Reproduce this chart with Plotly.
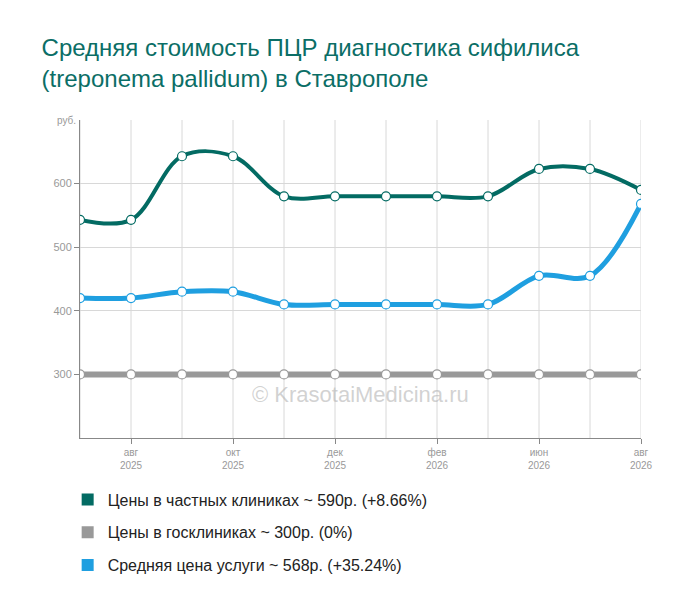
import plotly.graph_objects as go

x_idx = list(range(12))
tick_vals = [1, 3, 5, 7, 9, 11]
tick_text = ["авг<br>2025", "окт<br>2025", "дек<br>2025", "фев<br>2026", "июн<br>2026", "авг<br>2026"]
private = [543, 543, 643, 643, 580, 580, 580, 580, 580, 623, 623, 590]
gov = [300] * 12
avg = [420, 420, 430, 430, 410, 410, 410, 410, 410, 455, 455, 568]

names = ["Цены в частных клиниках ~ 590р. (+8.66%)",
         "Цены в госклиниках ~ 300р. (0%)",
         "Средняя цена услуги ~ 568р. (+35.24%)"]
colors = ["#036b63", "#999999", "#1f9fe0"]

fig = go.Figure()
for s, c, w in zip([gov, avg, private], [colors[1], colors[2], colors[0]], [6, 5, 4]):
    fig.add_trace(go.Scatter(x=x_idx, y=s, mode="lines+markers",
                             line=dict(color=c, width=w, shape="spline", smoothing=1.0),
                             marker=dict(size=9, color="white", line=dict(color=c, width=1.2)),
                             showlegend=False, hoverinfo="skip"))
for k, (n, c) in enumerate(zip(names, colors)):
    fig.add_trace(go.Scatter(x=[None], y=[None], mode="markers", name=n, legendgroup=str(k),
                             marker=dict(symbol="square", size=15, color=c)))

fig.update_layout(
    width=700, height=616, paper_bgcolor="white", plot_bgcolor="white",
    margin=dict(l=72, r=67, t=112, b=186),
    font=dict(family="Arial, Liberation Sans", color="#333"),
    title=dict(text="Средняя стоимость ПЦР диагностика сифилиса<br>(treponema pallidum) в Ставрополе",
               x=0.048, xanchor="left", y=0.922, yanchor="top",
               font=dict(size=24, color="#0b6e66")),
    xaxis=dict(range=[0, 11], tickvals=tick_vals, ticktext=tick_text,
               showgrid=False, zeroline=False,
               showline=True, linecolor="#888", ticks="outside", ticklen=5, tickcolor="#888",
               tickfont=dict(size=10, color="#999")),
    yaxis=dict(range=[200, 700], tickvals=[300, 400, 500, 600], showgrid=True,
               gridcolor="#d8d8d8", zeroline=False, showline=True, linecolor="#888",
               ticks="outside", ticklen=5, tickcolor="#888",
               tickfont=dict(size=11, color="#999")),
    legend=dict(x=-0.022, y=-0.14, xanchor="left", yanchor="top", xref="paper",
                font=dict(size=16, color="#222"), tracegroupgap=9, itemsizing="constant"),
    showlegend=True,
)
for i in x_idx:
    fig.add_shape(type="line", x0=i, x1=i, y0=200, y1=700, xref="x", yref="y",
                  line=dict(color="#d8d8d8", width=1), layer="below")
fig.add_annotation(text="руб.", x=0, y=700, xref="x", yref="y", xanchor="right",
                   yanchor="middle", showarrow=False, font=dict(size=10, color="#999"), xshift=-2)
fig.add_annotation(text="© KrasotaiMedicina.ru", x=0.5, y=0.09, xref="paper", yref="paper",
                   showarrow=False, font=dict(size=22, color="rgba(180,180,180,0.6)"))
fig.write_html("out.html")
